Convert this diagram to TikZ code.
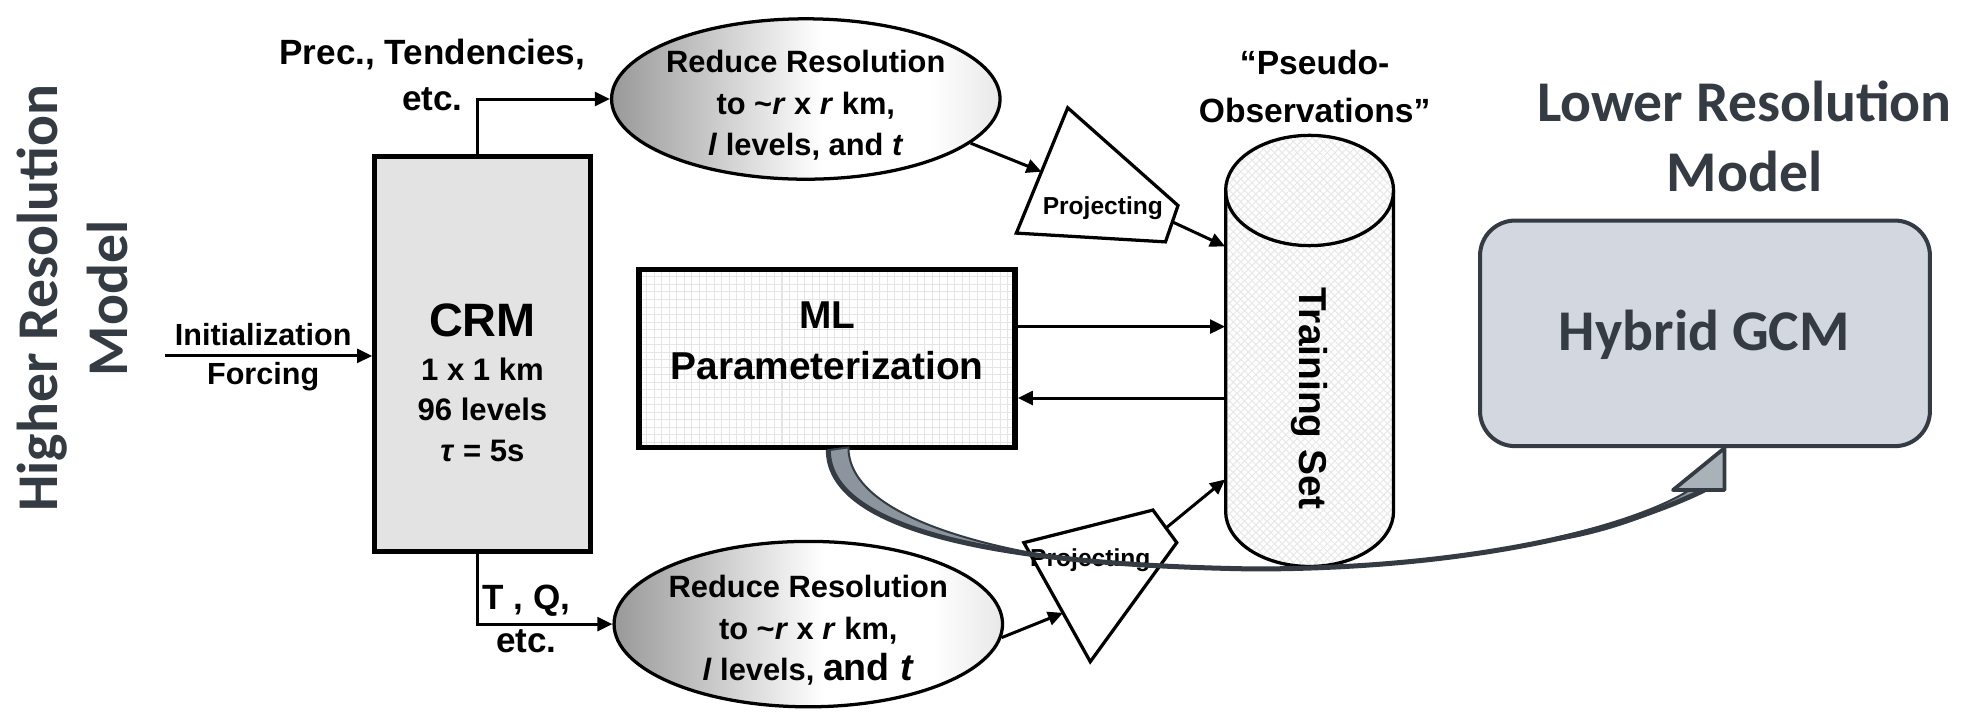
\documentclass[tikz,border=0pt]{standalone}
\usepackage{fontspec}
\setmainfont{Liberation Sans}
\newfontfamily\calfont{Carlito}
\usetikzlibrary{arrows.meta,shapes.geometric,patterns,calc}
\definecolor{slate}{HTML}{343B43}
\definecolor{hybfill}{HTML}{D3D7DF}
\definecolor{ribfill}{HTML}{8C959E}
\definecolor{headfill}{HTML}{A9B1B9}
\pgfdeclarehorizontalshading{redshade}{100bp}{color(0bp)=(black!40); color(25bp)=(black!40); color(52bp)=(white); color(66bp)=(white); color(75bp)=(black!9); color(100bp)=(black!9)}
\begin{document}
\begin{tikzpicture}[x=0.5pt,y=-0.5pt,
  lbl/.style={font=\bfseries, align=center, inner sep=0pt},
  arr/.style={-{Triangle[length=6pt,width=5.5pt]}, line width=1.2pt},
  big/.style={font=\calfont\bfseries\fontsize{23}{27.75}\selectfont, text=slate, align=center, inner sep=0pt},
  redell/.style={ellipse, draw, line width=1.3pt, minimum width=155pt, inner sep=0pt, shading=redshade},
  projshape/.style={draw, line width=1.3pt, fill=white, line join=miter},
  ellt/.style={lbl, font=\bfseries\fontsize{12.3}{16.5}\selectfont},
]
\useasboundingbox (0,0) rectangle (1568,569);

% left title
\node[big, rotate=90] (hrm) at (58,238) {Higher Resolution\\Model};

% CRM box
\node[draw, line width=2pt, fill=black!11, minimum width=86pt, minimum height=157.5pt, inner sep=0pt] (crm) at (385,282.5) {};
\node[lbl, font=\bfseries\fontsize{18.7}{22}\selectfont] (crmt) at (385,256) {CRM};
\node[lbl, font=\bfseries\fontsize{12.4}{16}\selectfont] (crms) at (385,327) {1 x 1 km\\96 levels\\\textit{τ} = 5s};

% initialization
\node[lbl, font=\bfseries\fontsize{12.2}{15.5}\selectfont] (init) at (210,285) {Initialization\\Forcing};
\coordinate (insrc) at (132,284);
\draw[arr] (insrc) -- (insrc -| crm.west);

% reduce-resolution ellipses
\node[redell, minimum height=64pt] (e1) at (643,79) {};
\node[ellt] (e1t) at (643,84) {Reduce Resolution\\to \textasciitilde\textit{r} x \textit{r} km,\\\textit{l} levels, and \textit{t}};
\node[redell, minimum height=66pt] (e2) at (645,498) {};
\node[ellt] (e2t) at (645,503) {Reduce Resolution\\to \textasciitilde\textit{r} x \textit{r} km,\\\textit{l} levels, {\fontsize{15}{16.5}\selectfont and \textit{t}}};

% CRM outputs
\node[lbl, font=\bfseries\fontsize{14}{18.5}\selectfont] (prec) at (345,60) {Prec., Tendencies,\\etc.};
\draw[arr] ($(crm.north)+(-4,0)$) |- (e1.west);
\node[lbl, font=\bfseries\fontsize{14}{17}\selectfont] (tq) at (420,494) {T , Q,\\etc.};
\draw[arr] ($(crm.south)+(-4,0)$) |- (e2.west);

% training set cylinder (anchor node)
\node[minimum width=67pt, minimum height=172pt, inner sep=0pt] (cyl) at (1045,280) {};
\coordinate (c197) at ($(cyl.north west)+(0,89)$);
\coordinate (c261) at ($(cyl.north west)+(0,153)$);
\coordinate (c318) at ($(cyl.north west)+(0,210)$);
\coordinate (c383) at ($(cyl.north west)+(0,275)$);
\draw[line width=1.3pt, preaction={fill=white}, pattern=crosshatch, pattern color=black!9]
  (978,152) -- (978,408) arc[start angle=180, end angle=0, x radius=67, y radius=44]
  -- (1112,152) arc[start angle=0, end angle=-180, x radius=67, y radius=44] -- cycle;
\draw[line width=1.3pt] (978,152) arc[start angle=180, end angle=0, x radius=67, y radius=44];
\node[lbl, rotate=-90, font=\bfseries\fontsize{15.5}{18}\selectfont] (ts) at (1045,318) {Training Set};
\node[lbl, font=\bfseries\fontsize{13.4}{19}\selectfont] (pseudo) at (1049,69) {“Pseudo-\\Observations”};

% projecting shapes
\draw[projshape] (852,86) coordinate (p1a) -- (940,164) coordinate (p1b) -- (930,193) coordinate (p1c) -- (811,186) coordinate (p1d) -- cycle;
\node[lbl, font=\bfseries\fontsize{9.8}{12}\selectfont] (p1t) at (880,166) {Projecting};
\draw[arr] (e1.345) -- ($(p1a)!0.51!(p1d)$);
\draw[arr] ($(p1b)!0.45!(p1c)$) -- (c197);

\draw[projshape] (817,433) coordinate (p2a) -- (920,407) coordinate (p2b) -- (939,433) coordinate (p2c) -- (870,528) coordinate (p2d) -- cycle;
\node[lbl, font=\bfseries\fontsize{9.8}{12}\selectfont] (p2t) at (870,447) {Projecting};
\draw[arr] (e2.356) -- ($(p2a)!0.59!(p2d)$);
\draw[arr] ($(p2b)!0.55!(p2c)$) -- (c383);

% ML parameterization
\node[draw, line width=2.2pt, minimum width=150pt, minimum height=71pt, inner sep=0pt, preaction={fill=white}, pattern=grid, pattern color=black!10] (ml) at (660,286) {};
\node[lbl, font=\bfseries\fontsize{15.5}{20}\selectfont] (mlt) at (660,272) {ML\\Parameterization};
\draw[arr] (ml.east |- c261) -- (c261);
\draw[arr] (c318) -- (ml.east |- c318);

% Hybrid GCM
\node[big] (lrm) at (1392,109) {Lower Resolution\\Model};
\node[draw=slate, line width=1.6pt, fill=hybfill, rounded corners=14pt, minimum width=179.5pt, minimum height=90pt, inner sep=0pt] (hyb) at (1360.5,266) {};
\node[big] (hybt) at (1360,267) {Hybrid GCM};

% curved ribbon arrow from ML to Hybrid GCM
\coordinate (rs) at ($(ml.south)+(1,0)$);
\coordinate (rm) at (1000,454);
\coordinate (re) at (1360,391);
\filldraw[draw=slate, fill=ribfill, line width=0.8pt]
  (rs) .. controls (661,398) and (714,431) .. (844,445)
  .. controls (740,428) and (677,398) .. (677,357) -- cycle;
\filldraw[draw=slate, fill=ribfill, line width=0.8pt]
  (1242,429) .. controls (1290,418) and (1330,403) .. (1348,391) -- (re)
  .. controls (1320,410) and (1285,424) .. (1242,431) -- cycle;
\draw[slate, line width=2pt] (rs) .. controls (661,412) and (755,450) .. (rm)
  .. controls (1150,454) and (1280,430) .. (re);
\draw[slate, line width=1.5pt, fill=headfill, line join=round] (hyb.south -| 1376,0) -- (1376,391) -- (1335,391) -- cycle;
\end{tikzpicture}
\end{document}
